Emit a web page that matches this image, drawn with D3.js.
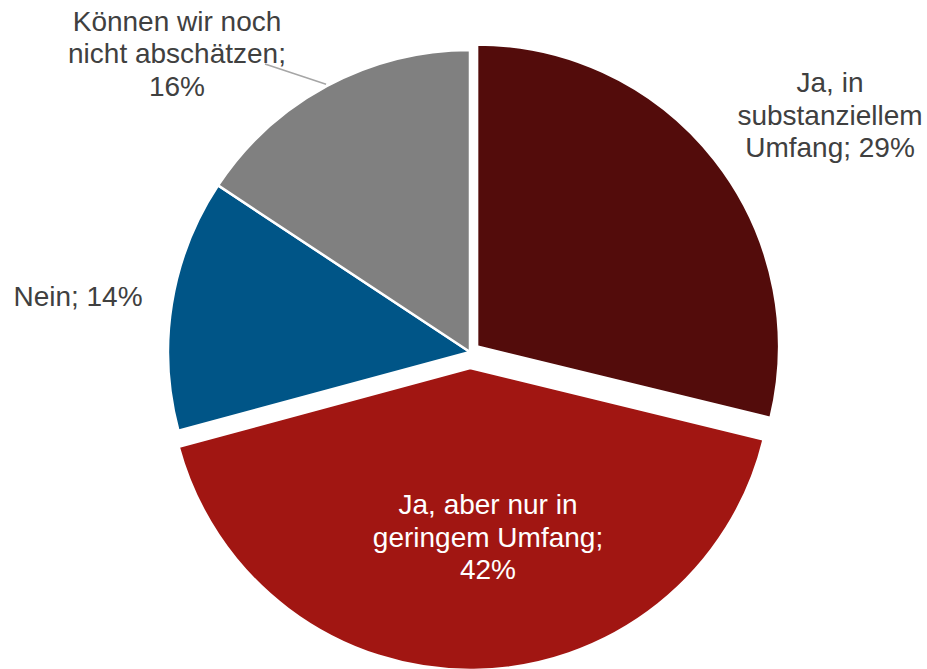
<!DOCTYPE html>
<html>
<head>
<meta charset="UTF-8">
<title>Pie</title>
<style>
  body { margin: 0; background: #fff; }
  text { font-family: "Liberation Sans", Arial, sans-serif; font-size: 28px; }
</style>
</head>
<body>
<script src="https://d3js.org/d3.v7.min.js"></script>
<script>
// data (share of answers, clockwise from 12 o'clock)
var categories = ["Ja, in substanziellem Umfang", "Ja, aber nur in geringem Umfang", "Nein", "Können wir noch nicht abschätzen"];
var values = [28.8, 42.0, 13.5, 15.7];
var percentLabels = ["29%", "42%", "14%", "16%"];
var labelLines = [
  ["Ja, in", "substanziellem", "Umfang; 29%"],
  ["Ja, aber nur in", "geringem Umfang;", "42%"],
  ["Nein; 14%"],
  ["Können wir noch", "nicht abschätzen;", "16%"]
];
var colors = ["#530c0b", "#a11612", "#005587", "#808080"];

// layout
var W = 927, H = 669;
var cx = 470, cy = 352, radius = 302;
var explode = [9, 16, 0, 0];          // pull-out of each slice, px
var labelAt = [                        // centre x, first baseline y
  { x: 830, y: 92, fill: "#404040" },
  { x: 488, y: 514, fill: "#ffffff" },
  { x: 78, y: 306, fill: "#404040" },
  { x: 177, y: 30.5, fill: "#404040" }
];
var lineH = 32.5;

var svg = d3.select("body").append("svg")
  .attr("width", W)
  .attr("height", H);

var pie = d3.pie().sort(null).value(function(d) { return d; });
var arcs = pie(values);
var arc = d3.arc().innerRadius(0).outerRadius(radius);

var g = svg.append("g").attr("transform", "translate(" + cx + "," + cy + ")");

g.selectAll("path.slice")
  .data(arcs)
  .enter().append("path")
    .attr("class", "slice")
    .attr("d", arc)
    .attr("fill", function(d, i) { return colors[i]; })
    .attr("stroke", "#fff")
    .attr("stroke-width", 2.5)
    .attr("transform", function(d, i) {
      var a = (d.startAngle + d.endAngle) / 2;
      return "translate(" + (Math.sin(a) * explode[i]) + "," + (-Math.cos(a) * explode[i]) + ")";
    });

// leader line for the grey slice label, ends on the rim at mid angle
var greyArc = arcs[3];
var ga = (greyArc.startAngle + greyArc.endAngle) / 2;
svg.append("line")
  .attr("x1", 265).attr("y1", 64)
  .attr("x2", cx + Math.sin(ga) * (radius + 2))
  .attr("y2", cy - Math.cos(ga) * (radius + 2))
  .attr("stroke", "#a6a6a6")
  .attr("stroke-width", 1.5);

// labels
labelLines.forEach(function(lines, i) {
  var t = svg.append("text")
    .attr("text-anchor", "middle")
    .attr("fill", labelAt[i].fill);
  lines.forEach(function(s, k) {
    t.append("tspan")
      .attr("x", labelAt[i].x)
      .attr("y", labelAt[i].y + k * lineH)
      .text(s);
  });
});
</script>
</body>
</html>
